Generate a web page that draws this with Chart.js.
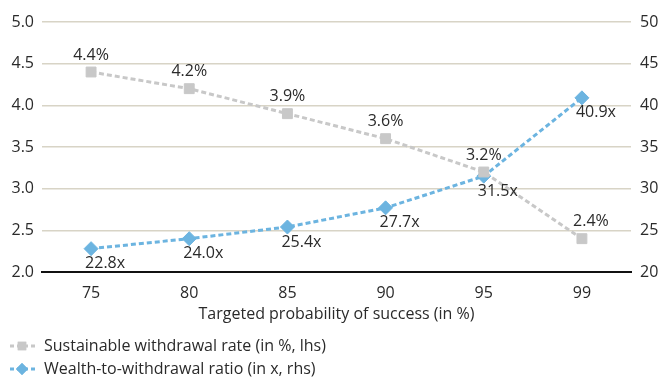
<!DOCTYPE html>
<html><head><meta charset="utf-8">
<script src="https://cdn.jsdelivr.net/npm/chart.js@4/dist/chart.umd.min.js"></script>
<style>html,body{margin:0;padding:0;background:#fff}#wrap{width:660px;height:380px}</style>
</head><body><div id="wrap"><canvas id="c" width="660" height="380"></canvas></div>
<script>
const categories = ['75','80','85','90','95','99'];
const withdrawalRate = [4.4, 4.2, 3.9, 3.6, 3.2, 2.4];
const wealthRatio = [22.8, 24.0, 25.4, 27.7, 31.5, 40.9];
const rateLabels = ['4.4%','4.2%','3.9%','3.6%','3.2%','2.4%'];
const ratioLabels = ['22.8x','24.0x','25.4x','27.7x','31.5x','40.9x'];
const seriesNames = ['Sustainable withdrawal rate (in %, lhs)','Wealth-to-withdrawal ratio (in x, rhs)'];
const xTitle = 'Targeted probability of success (in %)';

const GREY = '#c8c8c8', BLUE = '#6cb4e0', FONT = '"Open Sans", sans-serif', TXT = '#2a2a2a';
const FS = 16;

const labelPlugin = {
  id: 'labels',
  afterDatasetsDraw(chart) {
    const ctx = chart.ctx;
    ctx.save();
    ctx.font = FS + 'px ' + FONT;
    ctx.fillStyle = TXT;
    ctx.textBaseline = 'middle';
    chart.getDatasetMeta(0).data.forEach((p, i) => {
      ctx.textAlign = 'center';
      ctx.fillText(rateLabels[i], p.x + (i === 5 ? 9 : 0), p.y - 17);
    });
    chart.getDatasetMeta(1).data.forEach((p, i) => {
      ctx.textAlign = 'left';
      ctx.fillText(ratioLabels[i], p.x - 6, p.y + 15);
    });
    ctx.restore();
  }
};

const legendPlugin = {
  id: 'customLegend',
  afterDraw(chart) {
    const ctx = chart.ctx;
    const items = [
      {name: seriesNames[0], color: GREY, style: 'rect', y: 346},
      {name: seriesNames[1], color: BLUE, style: 'rectRot', y: 369}
    ];
    ctx.save();
    items.forEach(it => {
      ctx.strokeStyle = it.color;
      ctx.lineWidth = 3;
      ctx.setLineDash([4, 3]);
      ctx.beginPath(); ctx.moveTo(10, it.y); ctx.lineTo(35, it.y); ctx.stroke();
      ctx.setLineDash([]);
      ctx.fillStyle = it.color;
      Chart.helpers.drawPoint(ctx, {pointStyle: it.style, radius: 6, rotation: 0, borderWidth: 0}, 22, it.y);
      ctx.fill();
      ctx.fillStyle = TXT;
      ctx.font = FS + 'px ' + FONT;
      ctx.textAlign = 'left';
      ctx.textBaseline = 'middle';
      ctx.fillText(it.name, 44, it.y);
    });
    ctx.restore();
  }
};

new Chart(document.getElementById('c'), {
  type: 'line',
  data: {
    labels: categories,
    datasets: [
      {label: seriesNames[0], data: withdrawalRate, yAxisID: 'y', borderColor: GREY, backgroundColor: GREY,
       borderWidth: 3, borderDash: [5, 3], pointStyle: 'rect', pointRadius: 7, pointBorderWidth: 1,
       pointBorderColor: GREY, pointBackgroundColor: GREY, tension: 0},
      {label: seriesNames[1], data: wealthRatio, yAxisID: 'y1', borderColor: BLUE, backgroundColor: BLUE,
       borderWidth: 3, borderDash: [5, 3], pointStyle: 'rectRot', pointRadius: 7, pointBorderWidth: 1,
       pointBorderColor: BLUE, pointBackgroundColor: BLUE, tension: 0}
    ]
  },
  options: {
    responsive: false,
    animation: false,
    layout: {padding: {top: 22, bottom: 55, left: 0, right: 0}},
    plugins: {legend: {display: false}, tooltip: {enabled: false}},
    scales: {
      x: {
        offset: true,
        grid: {display: false, drawTicks: false},
        border: {display: true, color: '#111', width: 2},
        ticks: {font: {family: FONT, size: FS}, color: TXT, padding: 12},
        title: {display: true, text: xTitle, font: {family: FONT, size: FS}, color: TXT, padding: {top: 0, bottom: 1}},
        afterFit(s) { s.height = 53; }
      },
      y: {
        position: 'left', min: 2, max: 5,
        grid: {color: '#d8d4c6', lineWidth: 1.5, drawTicks: false},
        border: {display: false},
        ticks: {stepSize: 0.5, font: {family: FONT, size: FS}, color: TXT, padding: 8,
                callback: v => v.toFixed(1)},
        afterFit(s) { s.width = 42; }
      },
      y1: {
        position: 'right', min: 20, max: 50,
        grid: {display: false, drawTicks: false},
        border: {display: false},
        ticks: {stepSize: 5, font: {family: FONT, size: FS}, color: TXT, padding: 9},
        afterFit(s) { s.width = 29; }
      }
    }
  },
  plugins: [labelPlugin, legendPlugin]
});
</script></body></html>
